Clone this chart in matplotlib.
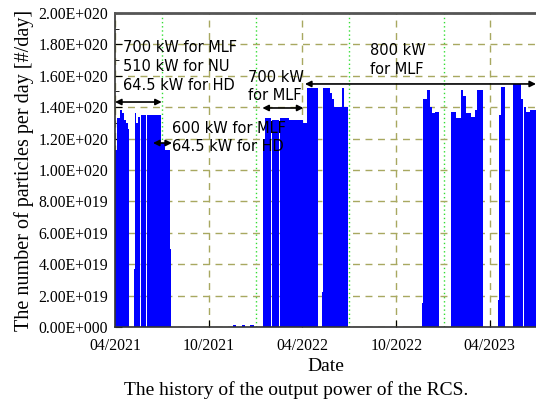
import numpy as np
import pandas as pd
import matplotlib
matplotlib.use("Agg")
import matplotlib.pyplot as plt
import matplotlib.dates as mdates

# beam runs: start date, length in days, particles per day
run_start = ["2021-04-01", "2021-04-05", "2021-04-11", "2021-04-15", "2021-04-19", "2021-04-22", "2021-04-26",
             "2021-05-08", "2021-05-09", "2021-05-12", "2021-05-16", "2021-05-20", "2021-05-21", "2021-06-01", "2021-06-02",
             "2021-06-30", "2021-07-08", "2021-07-17",
             "2021-11-16", "2021-12-05", "2021-12-20",
             "2022-01-15", "2022-01-18", "2022-01-30", "2022-01-31", "2022-02-15", "2022-02-16", "2022-03-05", "2022-03-06",
             "2022-04-02", "2022-04-09", "2022-04-17", "2022-04-18",
             "2022-05-10", "2022-05-11", "2022-05-24", "2022-05-28", "2022-06-02", "2022-06-18", "2022-06-21",
             "2022-11-19", "2022-11-22", "2022-11-29", "2022-12-06", "2022-12-10", "2022-12-16",
             "2023-01-15", "2023-01-25", "2023-02-04", "2023-02-08", "2023-02-13", "2023-02-23", "2023-03-03", "2023-03-07",
             "2023-04-17", "2023-04-19", "2023-04-23",
             "2023-05-16", "2023-06-01", "2023-06-06", "2023-06-10", "2023-06-18", "2023-06-24"]
run_days = [4, 6, 4, 4, 3, 4, 3,
            1, 3, 4, 4, 1, 11, 1, 28,
            8, 9, 2,
            6, 5, 8,
            3, 12, 1, 15, 1, 17, 1, 27,
            7, 8, 1, 14,
            1, 13, 4, 5, 16, 3, 7,
            3, 7, 7, 4, 6, 7,
            10, 10, 4, 5, 10, 8, 4, 12,
            2, 4, 8,
            15, 4, 4, 8, 6, 7]
run_value = [1.13e20, 1.33e20, 1.38e20, 1.36e20, 1.32e20, 1.30e20, 1.26e20,
             3.7e19, 1.36e20, 1.30e20, 1.34e20, 0.0, 1.35e20, 0.0, 1.35e20,
             1.17e20, 1.13e20, 5.0e19,
             1.5e18, 1.0e18, 1.5e18,
             1.20e20, 1.33e20, 0.0, 1.32e20, 0.0, 1.33e20, 0.0, 1.32e20,
             1.30e20, 1.52e20, 0.0, 1.52e20,
             2.2e19, 1.52e20, 1.49e20, 1.45e20, 1.40e20, 1.52e20, 1.40e20,
             1.5e19, 1.45e20, 1.51e20, 1.40e20, 1.36e20, 1.37e20,
             1.37e20, 1.33e20, 1.51e20, 1.47e20, 1.36e20, 1.34e20, 1.38e20, 1.51e20,
             1.7e19, 1.35e20, 1.53e20,
             1.55e20, 1.45e20, 1.40e20, 1.37e20, 1.38e20, 1.38e20]

y_ticks = np.arange(0, 2.01e20, 2e19)


def sci_label(v, pos=None):
    if v == 0:
        return "0.00E+000"
    e = int(np.floor(np.log10(abs(v)) + 1e-9))
    return f"{v / 10**e:.2f}E+{e:03d}"


plt.rcParams["font.family"] = ["Liberation Serif", "DejaVu Serif"]

fig = plt.figure(figsize=(5.36, 4.01), dpi=100)
ax = fig.add_axes([0.2146, 0.1845, 0.7854, 0.7831])

starts = pd.to_datetime(run_start)
ax.bar(starts, run_value, width=run_days, align="edge", color="#0000ff",
       linewidth=0, zorder=2)

ax.set_xlim(pd.Timestamp("2021-04-01"), pd.Timestamp("2023-06-30"))
ax.set_ylim(0, 2e20)

ax.xaxis.set_major_locator(mdates.MonthLocator(bymonth=[4, 10]))
ax.xaxis.set_major_formatter(mdates.DateFormatter("%m/%Y"))
ax.xaxis.set_minor_locator(mdates.MonthLocator(bymonth=[1, 7]))
ax.set_yticks(y_ticks)
ax.set_yticks(np.arange(0, 2.01e20, 1e19), minor=True)
ax.yaxis.set_major_formatter(plt.FuncFormatter(sci_label))
ax.tick_params(which="both", direction="in", labelsize=11.3)
ax.tick_params(which="major", length=5)
ax.tick_params(axis="x", which="major", pad=8)
ax.tick_params(axis="y", which="major", pad=5)
ax.tick_params(axis="y", which="minor", length=3)
ax.tick_params(axis="x", which="minor", length=0)

olive = "#a8a860"
ax.grid(True, which="major", axis="both", linestyle=(0, (5, 4)), color=olive,
        linewidth=1.0, zorder=1)
ax.grid(True, which="minor", axis="x", linestyle=(0, (1, 2)), color="#33dd33",
        linewidth=1.0, zorder=1)
ax.set_axisbelow(True)

for s in ["left", "bottom"]:
    ax.spines[s].set_color("#333333")
    ax.spines[s].set_linewidth(1.2)
ax.spines["top"].set_color("#555555")
ax.spines["top"].set_linewidth(2)
ax.spines["right"].set_visible(False)

ax.set_ylabel("The number of particles per day [#/day]", fontsize=14.5, labelpad=3)
ax.set_xlabel("Date", fontsize=14, labelpad=3)
fig.text(0.552, 0.027, "The history of the output power of the RCS.",
         ha="center", va="center", fontsize=14)

sans = ["DejaVu Sans"]
arr = dict(arrowstyle="<|-|>", color="black", lw=1.2, mutation_scale=9,
           shrinkA=0, shrinkB=0)
T = pd.Timestamp
ax.annotate("", xy=(T("2021-04-01"), 1.433e20), xytext=(T("2021-07-01"), 1.433e20),
            arrowprops=arr, zorder=5)
ax.annotate("", xy=(T("2021-06-14"), 1.172e20), xytext=(T("2021-07-21"), 1.172e20),
            arrowprops=arr, zorder=5)
ax.annotate("", xy=(T("2022-01-13"), 1.395e20), xytext=(T("2022-04-03"), 1.395e20),
            arrowprops=arr, zorder=5)
ax.annotate("", xy=(T("2022-04-06"), 1.548e20), xytext=(T("2023-06-30"), 1.548e20),
            arrowprops=arr, zorder=5, annotation_clip=False)

ax.text(T("2021-04-16"), 1.659e20, "700 kW for MLF\n510 kW for NU\n64.5 kW for HD",
        family=sans, fontsize=10.5, ha="left", va="center", linespacing=1.3, zorder=6)
ax.text(T("2021-07-21"), 1.207e20, "600 kW for MLF\n64.5 kW for HD",
        family=sans, fontsize=10.5, ha="left", va="center", linespacing=1.3, zorder=6)
ax.text(T("2021-12-16"), 1.532e20, "700 kW\nfor MLF",
        family=sans, fontsize=10.5, ha="left", va="center", linespacing=1.3, zorder=6)
ax.text(T("2022-08-11"), 1.70e20, "800 kW\nfor MLF",
        family=sans, fontsize=10.5, ha="left", va="center", linespacing=1.3, zorder=6)

fig.savefig("out.png", dpi=100)
